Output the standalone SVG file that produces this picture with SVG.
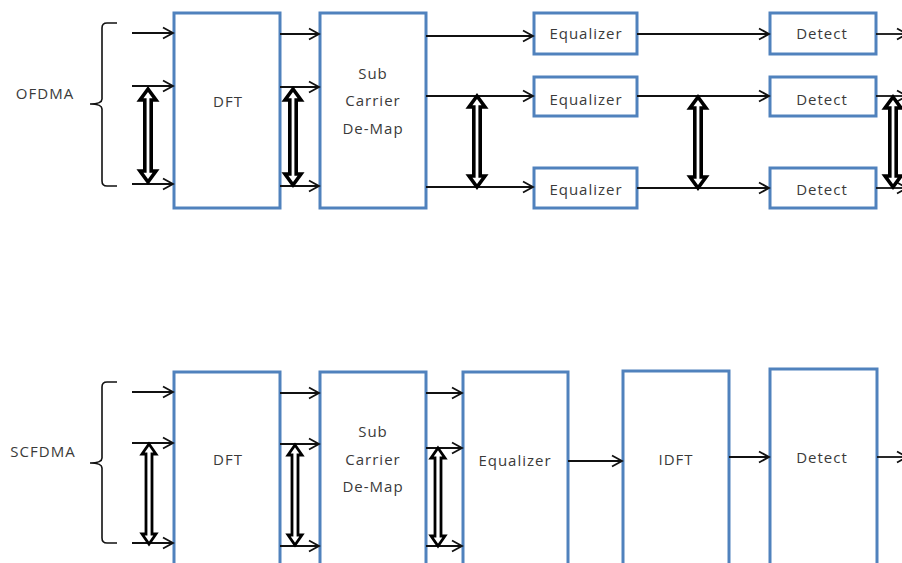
<svg xmlns="http://www.w3.org/2000/svg" width="902" height="563" viewBox="0 0 902 563">
<defs>
<marker id="ah" markerUnits="userSpaceOnUse" markerWidth="14" markerHeight="14" viewBox="0 0 14 14" refX="12" refY="7" orient="auto">
<path d="M2,1.5 L12,7 L2,12.5" fill="none" stroke="#111" stroke-width="1.8"/>
</marker>
</defs>
<style>
.box{fill:#fff;stroke:#5082bd;stroke-width:3}
.t{font-family:"Open Sans","Liberation Sans",sans-serif;font-size:15px;letter-spacing:1px;fill:#3a3a3a;text-anchor:middle;dominant-baseline:central}
.ln{stroke:#111;stroke-width:1.8;fill:none;marker-end:url(#ah)}
.br{stroke:#111;stroke-width:1.6;fill:none}
.dbl{fill:#fff;stroke:#000;stroke-width:3.6;stroke-linejoin:miter}
.dbl2{fill:#fff;stroke:#000;stroke-width:2.8;stroke-linejoin:miter}
</style>

<!-- ===== OFDMA ===== -->
<g id="ofdma-label">
<path class="br" d="M117,23 H107 Q102,23 102,28 V99 Q102,104 90,104 Q102,104 102,109 V181 Q102,186 107,186 H117"/>
<text class="t" x="45" y="93">OFDMA</text>
</g>
<g id="o-dft"><rect class="box" x="174" y="13" width="106" height="195"/><text class="t" x="228" y="101">DFT</text></g>
<g id="o-scdm"><rect class="box" x="320" y="13" width="106" height="195"/>
<text class="t" x="373" y="73">Sub</text><text class="t" x="373" y="100">Carrier</text><text class="t" x="373" y="128">De-Map</text></g>
<g id="o-eq1"><rect class="box" x="534" y="13" width="103" height="41"/><text class="t" x="586" y="33">Equalizer</text></g>
<g id="o-eq2"><rect class="box" x="534" y="77" width="103" height="39"/><text class="t" x="586" y="99">Equalizer</text></g>
<g id="o-eq3"><rect class="box" x="534" y="168" width="103" height="40"/><text class="t" x="586" y="189">Equalizer</text></g>
<g id="o-det1"><rect class="box" x="770" y="13" width="106" height="41"/><text class="t" x="822" y="33">Detect</text></g>
<g id="o-det2"><rect class="box" x="770" y="77" width="106" height="39"/><text class="t" x="822" y="99">Detect</text></g>
<g id="o-det3"><rect class="box" x="770" y="168" width="106" height="40"/><text class="t" x="822" y="189">Detect</text></g>

<!-- ===== SCFDMA ===== -->
<g id="scfdma-label">
<path class="br" d="M117,382 H107 Q102,382 102,387 V458 Q102,463 90,463 Q102,463 102,468 V538 Q102,543 107,543 H117"/>
<text class="t" x="43" y="451">SCFDMA</text>
</g>
<g id="s-dft"><rect class="box" x="174" y="372" width="106" height="200"/><text class="t" x="228" y="459">DFT</text></g>
<g id="s-scdm"><rect class="box" x="320" y="372" width="106" height="200"/>
<text class="t" x="373" y="431">Sub</text><text class="t" x="373" y="459">Carrier</text><text class="t" x="373" y="486">De-Map</text></g>
<g id="s-eq"><rect class="box" x="463" y="372" width="105" height="200"/><text class="t" x="515" y="460">Equalizer</text></g>
<g id="s-idft"><rect class="box" x="623" y="371" width="106" height="200"/><text class="t" x="676" y="459">IDFT</text></g>
<g id="s-det"><rect class="box" x="770" y="369" width="107" height="202"/><text class="t" x="822" y="457">Detect</text></g>

<g id="connectors">
<!-- OFDMA inputs -->
<line class="ln" x1="132" y1="33" x2="173" y2="33"/>
<line class="ln" x1="132" y1="86" x2="173" y2="86"/>
<line class="ln" x1="132" y1="184" x2="173" y2="184"/>
<!-- DFT -> SCDM -->
<line class="ln" x1="280" y1="34" x2="319" y2="34"/>
<line class="ln" x1="280" y1="87" x2="319" y2="87"/>
<line class="ln" x1="280" y1="186" x2="319" y2="186"/>
<!-- SCDM -> Eq -->
<line class="ln" x1="426" y1="36" x2="533" y2="36"/>
<line class="ln" x1="426" y1="96" x2="533" y2="96"/>
<line class="ln" x1="426" y1="187" x2="533" y2="187"/>
<!-- Eq -> Detect -->
<line class="ln" x1="637" y1="34" x2="769" y2="34"/>
<line class="ln" x1="637" y1="96" x2="769" y2="96"/>
<line class="ln" x1="637" y1="188" x2="769" y2="188"/>
<!-- Detect outputs -->
<line class="ln" x1="876" y1="34" x2="907" y2="34"/>
<line class="ln" x1="876" y1="96" x2="907" y2="96"/>
<line class="ln" x1="876" y1="188" x2="907" y2="188"/>

<!-- OFDMA double arrows -->
<path class="dbl" d="M148,89 L156,100 L151.2,100 L151.2,171 L156,171 L148,182 L140,171 L144.8,171 L144.8,100 L140,100 Z"/>
<path class="dbl" d="M293,89 L301,100 L296.2,100 L296.2,174 L301,174 L293,185 L285,174 L289.8,174 L289.8,100 L285,100 Z"/>
<path class="dbl" d="M477,96 L485,107 L480.2,107 L480.2,176 L485,176 L477,187 L469,176 L473.8,176 L473.8,107 L469,107 Z"/>
<path class="dbl" d="M698,97 L706,108 L701.2,108 L701.2,177 L706,177 L698,188 L690,177 L694.8,177 L694.8,108 L690,108 Z"/>
<path class="dbl" d="M893,97 L901,108 L896.2,108 L896.2,176 L901,176 L893,187 L885,176 L889.8,176 L889.8,108 L885,108 Z"/>

<!-- SCFDMA inputs -->
<line class="ln" x1="132" y1="392" x2="173" y2="392"/>
<line class="ln" x1="132" y1="443" x2="173" y2="443"/>
<line class="ln" x1="132" y1="543" x2="173" y2="543"/>
<!-- DFT -> SCDM -->
<line class="ln" x1="280" y1="393" x2="319" y2="393"/>
<line class="ln" x1="280" y1="444" x2="319" y2="444"/>
<line class="ln" x1="280" y1="546" x2="319" y2="546"/>
<!-- SCDM -> Eq -->
<line class="ln" x1="426" y1="393" x2="462" y2="393"/>
<line class="ln" x1="426" y1="448" x2="462" y2="448"/>
<line class="ln" x1="426" y1="546" x2="462" y2="546"/>
<!-- chain -->
<line class="ln" x1="568" y1="461" x2="622" y2="461"/>
<line class="ln" x1="729" y1="457" x2="769" y2="457"/>
<line class="ln" x1="877" y1="457" x2="907" y2="457"/>

<!-- SCFDMA double arrows -->
<path class="dbl2" d="M149,444 L156,454 L152,454 L152,534 L156,534 L149,544 L142,534 L146,534 L146,454 L142,454 Z"/>
<path class="dbl2" d="M295,445 L302,455 L298,455 L298,535 L302,535 L295,545 L288,535 L292,535 L292,455 L288,455 Z"/>
<path class="dbl2" d="M438,448 L445,458 L441,458 L441,536 L445,536 L438,546 L431,536 L435,536 L435,458 L431,458 Z"/>
</g>
</svg>
